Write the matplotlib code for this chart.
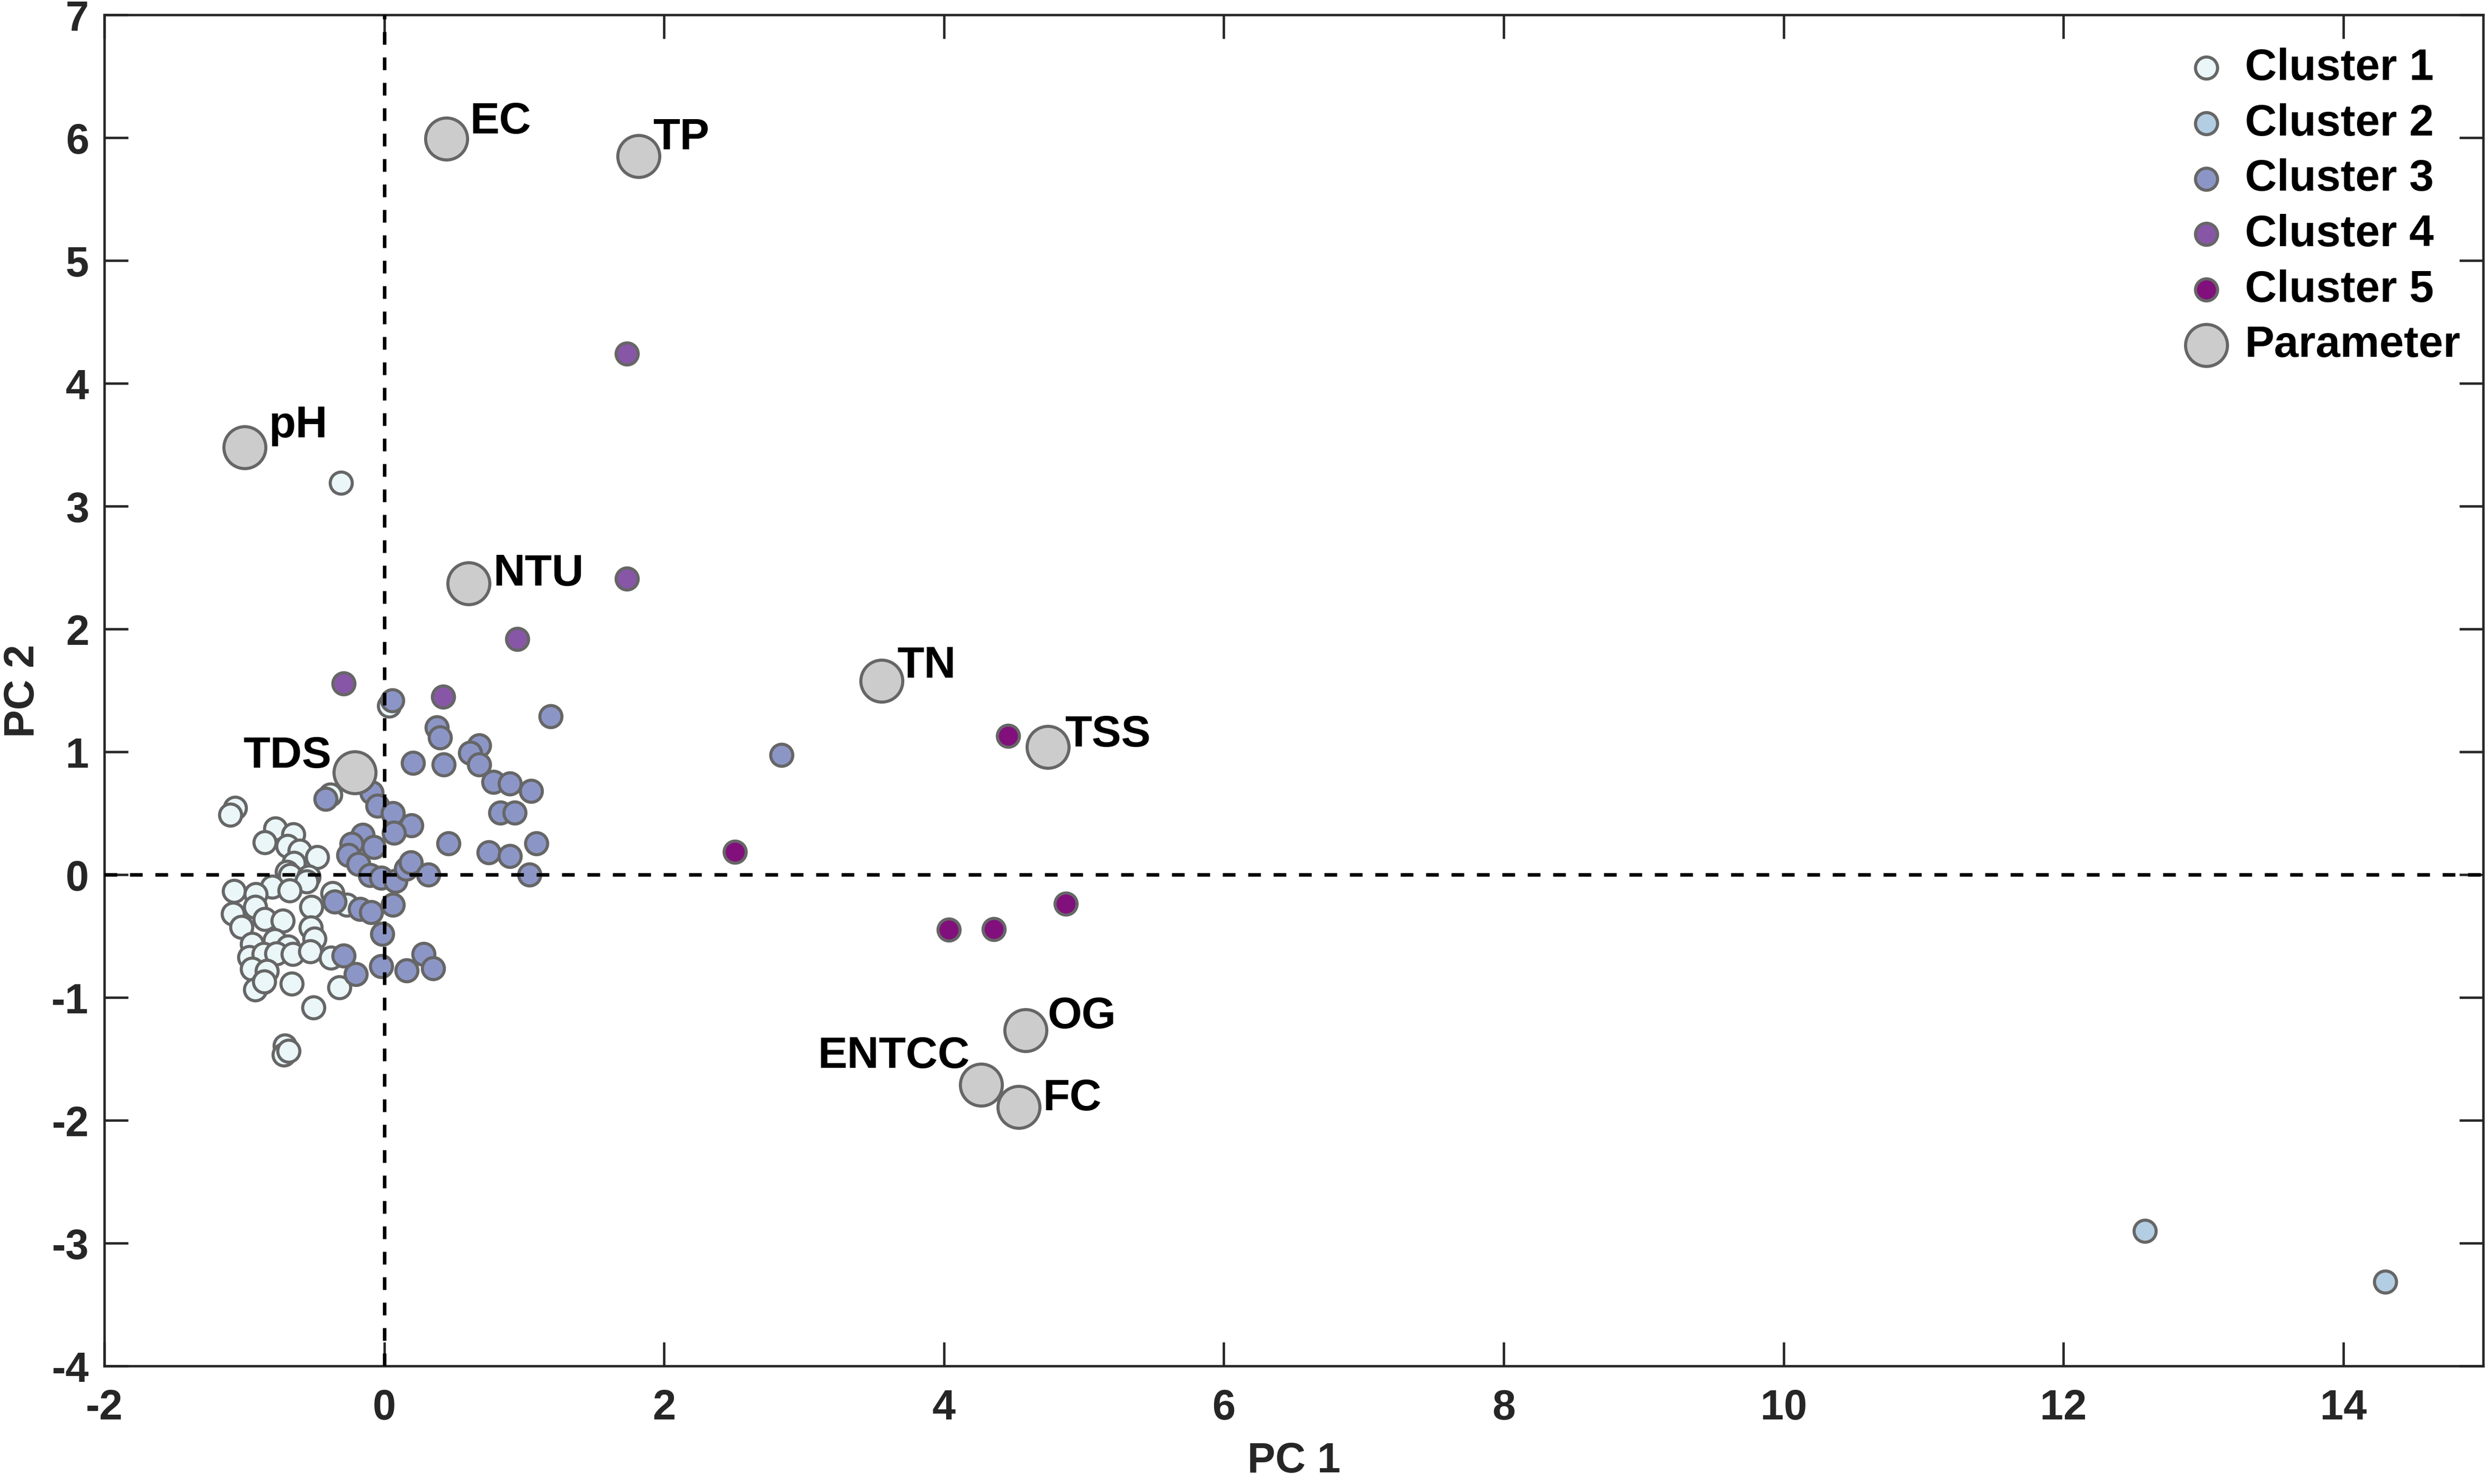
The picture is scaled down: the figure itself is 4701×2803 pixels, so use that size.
import matplotlib
matplotlib.use("Agg")
import matplotlib.pyplot as plt

plt.rcParams['font.family'] = ['Liberation Sans', 'DejaVu Sans']
plt.rcParams['font.weight'] = 'bold'
plt.rcParams['axes.unicode_minus'] = False

# ---------------- data ----------------
c1_x = [-0.31, 0.035, -0.386, -1.064, -1.100, -0.776, -0.649, -0.855, -0.692, -0.605, -0.48,
        -0.646, -0.695, -0.670, -0.538, -0.556, -1.072, -0.80, -0.675, -0.917, -1.079,
        -0.921, -0.855, -0.725, -0.522, -0.370, -0.266, -1.02, -0.526, -0.499,
        -0.946, -0.782, -0.687, -0.964, -0.861, -0.770, -0.652, -0.529, -0.381,
        -0.946, -0.838, -0.861, -0.920, -0.857, -0.659, -0.320, -0.505,
        -0.708, -0.717, -0.683]
c1_y = [3.19, 1.375, 0.649, 0.542, 0.486, 0.375, 0.328, 0.261, 0.234, 0.192, 0.141,
        0.095, 0.023, -0.003, -0.016, -0.056, -0.135, -0.10, -0.130, -0.160, -0.32,
        -0.262, -0.360, -0.377, -0.262, -0.150, -0.246, -0.427, -0.432, -0.521,
        -0.563, -0.534, -0.585, -0.673, -0.647, -0.640, -0.648, -0.627, -0.678,
        -0.768, -0.786, -0.876, -0.935, -0.872, -0.888, -0.918, -1.083,
        -1.394, -1.467, -1.436]

c2_x = [12.58, 14.30]
c2_y = [-2.90, -3.315]

c3_x = [0.06, 1.19, 0.376, 0.397, 0.678, 0.614, 0.678, 0.207, 0.427, 0.78, 0.898, 1.05,
        0.83, 0.932, 0.461, 0.746, 0.898, 1.088, 1.037, 2.84,
        -0.42, -0.09, -0.047, 0.063, 0.193, 0.071, -0.154, -0.234, -0.075, -0.255, -0.183,
        -0.100, -0.020, 0.080, 0.156, 0.19, 0.317,
        -0.353, -0.172, -0.093, 0.061, -0.012,
        -0.29, -0.201, -0.020, 0.16, 0.283, 0.35]
c3_y = [1.42, 1.29, 1.20, 1.116, 1.05, 0.99, 0.898, 0.909, 0.898, 0.753, 0.743, 0.68,
        0.504, 0.504, 0.255, 0.183, 0.151, 0.255, 0.0, 0.974,
        0.618, 0.67, 0.560, 0.500, 0.40, 0.340, 0.324, 0.250, 0.226, 0.158, 0.088,
        -0.003, -0.025, -0.050, 0.048, 0.10, 0.0,
        -0.220, -0.280, -0.305, -0.245, -0.483,
        -0.658, -0.809, -0.747, -0.782, -0.647, -0.761]

c4_x = [1.735, 1.735, 0.952, -0.290, 0.421]
c4_y = [4.243, 2.41, 1.918, 1.556, 1.450]

c5_x = [4.46, 2.507, 4.035, 4.355, 4.87]
c5_y = [1.13, 0.185, -0.45, -0.445, -0.237]

param_names = ['EC', 'TP', 'pH', 'NTU', 'TN', 'TSS', 'TDS', 'OG', 'ENTCC', 'FC']
param_x = [0.445, 1.818, -0.999, 0.603, 3.554, 4.742, -0.21, 4.585, 4.265, 4.534]
param_y = [5.99, 5.85, 3.48, 2.37, 1.578, 1.04, 0.83, -1.266, -1.711, -1.891]

cluster_labels = ['Cluster 1', 'Cluster 2', 'Cluster 3', 'Cluster 4', 'Cluster 5']
cluster_colors = ['#EAF6F8', '#B3CDE3', '#8C96C6', '#8856A7', '#810F7C']

x_ticks = [-2, 0, 2, 4, 6, 8, 10, 12, 14]
y_ticks = [-4, -3, -2, -1, 0, 1, 2, 3, 4, 5, 6, 7]

# ---------------- figure ----------------
fig = plt.figure(figsize=(4701 / 300, 2804 / 300), dpi=300)
ax = fig.add_axes([0.0419, 0.0795, 0.9558, 0.9102])

edge = '#666666'
small_s = 100
big_s = 361
ew = 1.4

handles = []
for cx, cy, col, lab in zip([c1_x, c2_x, c3_x, c4_x, c5_x],
                            [c1_y, c2_y, c3_y, c4_y, c5_y],
                            cluster_colors, cluster_labels):
    h = ax.scatter(cx, cy, s=small_s, c=col, edgecolors=edge, linewidths=ew,
                   zorder=2, label=lab)
    handles.append(h)

hp = ax.scatter(param_x, param_y, s=big_s, c='#CCCCCC', edgecolors=edge,
                linewidths=ew, zorder=4, label='Parameter')
handles.append(hp)

ax.axhline(0, color='black', lw=1.6, linestyle=(0, (3.6, 3.6)), zorder=3)
ax.axvline(0, color='black', lw=1.6, linestyle=(0, (3.6, 3.6)), zorder=3)

# label offsets in points (layout only)
offsets = {'EC': (10.5, 2.6, 'left'), 'TP': (6.5, 3.4, 'left'), 'pH': (11.0, 4.6, 'left'),
           'NTU': (11.2, -0.7, 'left'), 'TN': (7.0, 1.7, 'left'), 'TSS': (7.8, 0.5, 'left'),
           'TDS': (-10.5, 2.4, 'right'), 'OG': (10.0, 1.2, 'left'),
           'ENTCC': (-5.2, 7.9, 'right'), 'FC': (10.8, -1.2, 'left')}
for name, px, py in zip(param_names, param_x, param_y):
    dx, dy, ha = offsets[name]
    ax.annotate(name, (px, py), xytext=(dx, dy), textcoords='offset points',
                ha=ha, va='baseline', fontsize=20, fontweight='bold', color='black',
                zorder=5)

ax.set_xlim(-2, 15)
ax.set_ylim(-4, 7)
ax.set_xticks(x_ticks)
ax.set_yticks(y_ticks)

dark = '#262626'
for sp in ax.spines.values():
    sp.set_linewidth(1.1)
    sp.set_color(dark)
ax.tick_params(axis='both', which='both', direction='in', length=10.8, width=1.1,
               colors=dark, top=True, right=True, labelsize=19)
ax.tick_params(axis='x', pad=10)
ax.tick_params(axis='y', pad=7)
for lbl in ax.get_xticklabels() + ax.get_yticklabels():
    lbl.set_fontweight('bold')

ax.set_xlabel('PC 1', fontsize=19, fontweight='bold', color=dark, labelpad=6)
ax.set_ylabel('PC 2', fontsize=19, fontweight='bold', color=dark)
ax.yaxis.set_label_coords(-0.0258, 0.5)

leg = ax.legend(handles=handles, loc='upper right', bbox_to_anchor=(0.9905, 0.976),
                frameon=False, fontsize=20, borderaxespad=0, borderpad=0,
                handlelength=1.0, handletextpad=0.37, labelspacing=0.32,
                scatterpoints=1)
for t in leg.get_texts():
    t.set_fontweight('bold')

fig.savefig('out.png', dpi=300)
